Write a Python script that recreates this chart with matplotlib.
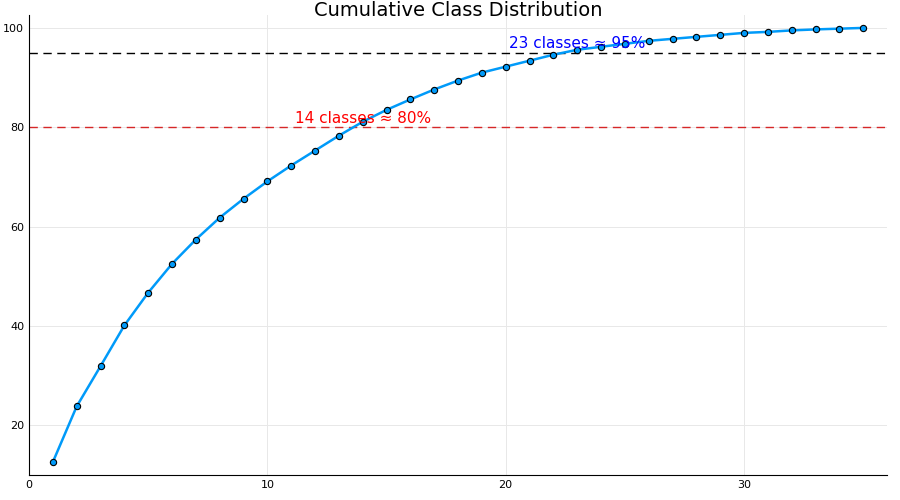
import matplotlib.pyplot as plt

n_classes = list(range(1, 36))
cumulative = [12.6, 23.8, 31.9, 40.1, 46.7, 52.5, 57.4, 61.8, 65.6, 69.1,
              72.3, 75.3, 78.3, 81.1, 83.5, 85.6, 87.6, 89.4, 91.0, 92.2,
              93.4, 94.6, 95.6, 96.2, 96.8, 97.4, 97.8, 98.2, 98.6, 99.0,
              99.2, 99.5, 99.7, 99.85, 100.0]
thresholds = [80, 95]
threshold_colors = ['#d62728', 'black']
notes = [(14, 81.8, '14 classes ≈ 80%', 'red'), (23, 96.8, '23 classes ≈ 95%', 'blue')]

fig = plt.figure(figsize=(9, 5), dpi=100)
ax = fig.add_axes([29 / 900, 25 / 500, 858 / 900, 460 / 500])

ax.plot(n_classes, cumulative, color='#009af9', lw=1.8, marker='o', ms=4.5,
        mfc='#009af9', mec='black', mew=0.8, zorder=3)
for t, c in zip(thresholds, threshold_colors):
    ax.axhline(t, color=c, ls=(0, (6, 4)), lw=1)
for x, y, s, c in notes:
    ax.text(x, y, s, color=c, ha='center', va='center', fontsize=11)

ax.set_xlim(0, 36)
ax.set_ylim(10, 102.6)
ax.set_xticks([0, 10, 20, 30])
ax.set_yticks([20, 40, 60, 80, 100])
ax.grid(True, color='#e8e8e8', lw=0.7)
ax.tick_params(labelsize=8, length=0)
for side in ['top', 'right']:
    ax.spines[side].set_visible(False)
fig.text(458 / 900, 1 - 11 / 500, 'Cumulative Class Distribution', fontsize=14,
         ha='center', va='center')

fig.savefig('out.png', dpi=100)
